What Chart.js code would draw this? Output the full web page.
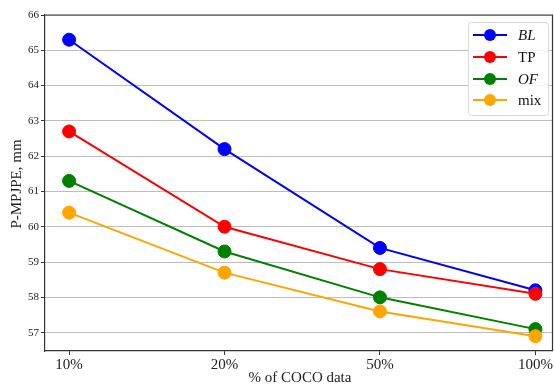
<!DOCTYPE html>
<html><head><meta charset="utf-8">
<script src="https://cdn.jsdelivr.net/npm/chart.js@4"></script>
<style>html,body{margin:0;padding:0;overflow:hidden;background:#fff}#wrap{width:554px;height:386px;overflow:hidden}</style>
</head><body><div id="wrap"><canvas id="c" width="560" height="386"></canvas></div>
<script>
const categories = ["10%", "20%", "50%", "100%"];
const seriesNames = ["BL", "TP", "OF", "mix"];
const BL  = [65.3, 62.2, 59.4, 58.2];
const TP  = [62.7, 60.0, 58.8, 58.1];
const OF  = [61.3, 59.3, 58.0, 57.1];
const MIX = [60.4, 58.7, 57.6, 56.9];
const yTicks = [57, 58, 59, 60, 61, 62, 63, 64, 65, 66];
const colors = ["#0000ff", "#ff0000", "#008000", "#ffa500"];
const italic = [true, false, true, false];
const series = [BL, TP, OF, MIX];

const SERIF = '"Liberation Serif","DejaVu Serif",serif';

const datasets = series.map((vals, i) => ({
  label: seriesNames[i],
  data: vals.map((v, k) => ({x: k, y: v})),
  borderColor: colors[i],
  backgroundColor: colors[i],
  pointBackgroundColor: colors[i],
  pointBorderColor: colors[i],
  borderWidth: 2,
  pointRadius: 6.5,
  pointBorderWidth: 1,
  pointHoverRadius: 6.5,
  tension: 0,
  order: 4 - i
}));

const extras = {
  id: 'extras',
  afterDraw(chart) {
    const ctx = chart.ctx, a = chart.chartArea;
    ctx.save();
    // frame top & right
    ctx.strokeStyle = '#333';
    ctx.lineWidth = 1.2;
    ctx.beginPath();
    ctx.moveTo(a.left, a.top); ctx.lineTo(a.right, a.top); ctx.lineTo(a.right, a.bottom);
    ctx.stroke();
    // axis titles
    ctx.fillStyle = '#222';
    ctx.font = '15px ' + SERIF;
    ctx.textAlign = 'center'; ctx.textBaseline = 'middle';
    ctx.fillText('% of COCO data', 300, 378);
    ctx.save();
    ctx.translate(17, 184);
    ctx.rotate(-Math.PI / 2);
    ctx.fillText('P-MPJPE, mm', 0, 0);
    ctx.restore();
    // legend
    const bx = 468.5, by = 22.5, bw = 80, bh = 93;
    ctx.fillStyle = 'rgba(255,255,255,0.85)';
    ctx.strokeStyle = '#d8d8d8';
    ctx.lineWidth = 1;
    ctx.beginPath();
    ctx.roundRect(bx, by, bw, bh, 3);
    ctx.fill(); ctx.stroke();
    const ys = [35, 57, 79, 100];
    seriesNames.forEach((n, i) => {
      const y = ys[i];
      ctx.strokeStyle = colors[i];
      ctx.lineWidth = 2;
      ctx.beginPath(); ctx.moveTo(473, y); ctx.lineTo(507, y); ctx.stroke();
      ctx.fillStyle = colors[i];
      ctx.beginPath(); ctx.arc(490, y, 6, 0, Math.PI * 2); ctx.fill();
      ctx.fillStyle = '#111';
      ctx.font = (italic[i] ? 'italic ' : '') + '15px ' + SERIF;
      ctx.textAlign = 'left'; ctx.textBaseline = 'middle';
      ctx.fillText(n, 518, y + 1);
    });
    ctx.restore();
  }
};

new Chart(document.getElementById('c'), {
  type: 'line',
  data: { datasets },
  options: {
    responsive: false,
    animation: false,
    devicePixelRatio: 1,
    layout: { padding: { top: 15, right: 5, left: 0, bottom: 0 } },
    plugins: { legend: { display: false }, tooltip: { enabled: false } },
    scales: {
      x: {
        type: 'linear',
        min: -0.155, max: 3.11,
        afterBuildTicks: s => { s.ticks = categories.map((c, i) => ({value: i})); },
        afterFit: s => { s.height = 35; },
        ticks: {
          callback: v => categories[v],
          font: { family: SERIF, size: 15 },
          color: '#222',
          padding: 1,
          maxRotation: 0, autoSkip: false
        },
        grid: { drawOnChartArea: false, drawTicks: true, tickLength: 4, tickColor: '#333', lineWidth: 1 },
        border: { display: true, color: '#333', width: 1.2 }
      },
      y: {
        min: 56.48, max: 66,
        afterBuildTicks: s => { s.ticks = yTicks.map(v => ({value: v})); },
        afterFit: s => { s.width = 45; },
        ticks: {
          callback: v => String(v),
          font: { family: SERIF, size: 11 },
          color: '#222',
          padding: 2
        },
        grid: { drawOnChartArea: true, color: '#bdbdbd', lineWidth: 1, drawTicks: true, tickLength: 4, tickColor: '#333' },
        border: { display: true, color: '#333', width: 1.2 }
      }
    }
  },
  plugins: [extras]
});
</script>
</body></html>
